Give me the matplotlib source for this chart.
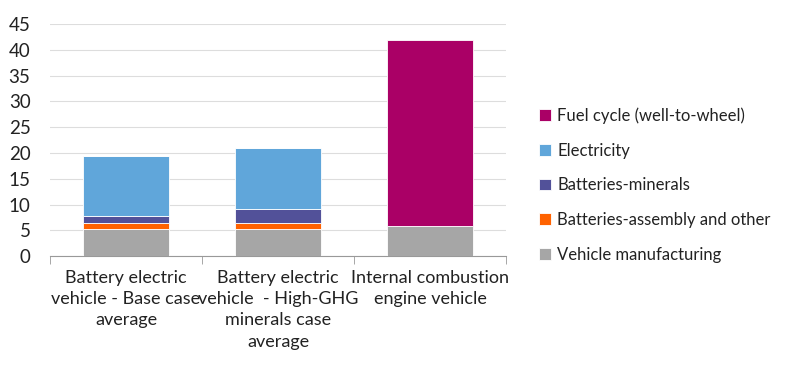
import numpy as np
import matplotlib.pyplot as plt

plt.rcParams['font.family'] = ['Lato', 'DejaVu Sans']

categories = ['Battery electric\nvehicle - Base case\naverage',
              'Battery electric\nvehicle  - High-GHG\nminerals case\naverage',
              'Internal combustion\nengine vehicle']
vehicle_mfg = [5.2, 5.2, 5.8]
batt_assembly = [1.3, 1.3, 0.0]
batt_minerals = [1.3, 2.7, 0.0]
electricity = [11.7, 11.8, 0.0]
fuel_cycle = [0.0, 0.0, 36.1]

series = [
    ('Vehicle manufacturing', vehicle_mfg, '#a6a6a6'),
    ('Batteries-assembly and other', batt_assembly, '#ff6200'),
    ('Batteries-minerals', batt_minerals, '#525199'),
    ('Electricity', electricity, '#60a6da'),
    ('Fuel cycle (well-to-wheel)', fuel_cycle, '#aa0066'),
]

fig = plt.figure(figsize=(8, 3.68), dpi=100)
ax = fig.add_axes([0.0625, 0.304, 0.57, 0.631])

x = np.arange(len(categories))
bottom = np.zeros(len(categories))
handles = []
for name, vals, col in series:
    vals = np.array(vals)
    b = ax.bar(x, vals, 0.56, bottom=bottom, color=col, label=name,
               edgecolor='white', linewidth=0.6, zorder=3)
    bottom += vals
    handles.append(b)

ax.set_ylim(0, 45)
ax.set_yticks(range(0, 46, 5))
ax.set_xlim(-0.5, 2.5)
ax.yaxis.grid(True, color='#dddddd', linewidth=0.8, zorder=0)
for s in ['top', 'right', 'left']:
    ax.spines[s].set_visible(False)
ax.spines['bottom'].set_color('#999999')
ax.tick_params(axis='y', length=0, labelsize=13.5, colors='#222222', pad=14)
ax.set_xticks(x)
ax.set_xticklabels(categories, fontsize=13, color='#222222', linespacing=1.4)
ax.tick_params(axis='x', length=0, pad=10)
ax.set_xticks([-0.5, 0.5, 1.5, 2.5], minor=True)
ax.tick_params(axis='x', which='minor', length=6, color='#999999')

leg = fig.legend(handles[::-1], [s[0] for s in series][::-1],
                 loc='center left', bbox_to_anchor=(0.655, 0.497),
                 frameon=False, fontsize=12, handlelength=0.7, handleheight=0.7,
                 handletextpad=0.4, labelspacing=1.12, labelcolor='#222222')

fig.savefig('out.png', dpi=100)
